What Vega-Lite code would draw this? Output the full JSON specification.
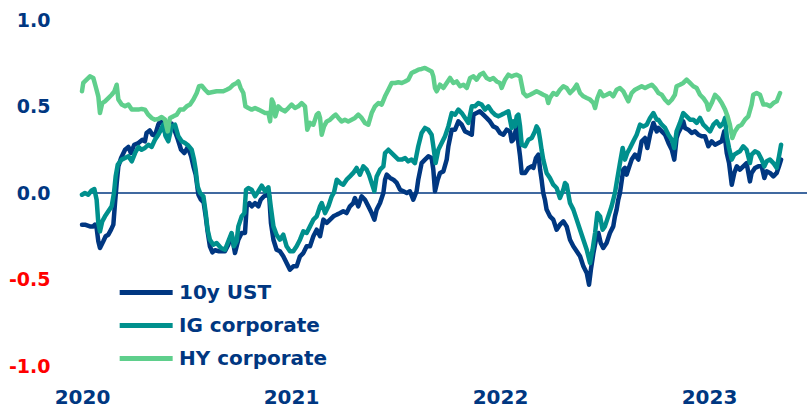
{
"$schema": "https://vega.github.io/schema/vega-lite/v6.json",
"width": 725, "height": 346,
"autosize": {"type": "none"},
"padding": {"left": 82, "top": 20, "right": 0, "bottom": 45},
"background": "white",
"config": {"view": {"stroke": null}, "font": "DejaVu Sans"},
"datasets": {
"series": [
{"s":"10y UST","t":2020.000,"v":-0.183},{"s":"10y UST","t":2020.014,"v":-0.183},{"s":"10y UST","t":2020.038,"v":-0.193},{"s":"10y UST","t":2020.054,"v":-0.193},{"s":"10y UST","t":2020.062,"v":-0.183},{"s":"10y UST","t":2020.070,"v":-0.202},{"s":"10y UST","t":2020.078,"v":-0.279},{"s":"10y UST","t":2020.086,"v":-0.318},{"s":"10y UST","t":2020.102,"v":-0.279},{"s":"10y UST","t":2020.113,"v":-0.250},{"s":"10y UST","t":2020.126,"v":-0.241},{"s":"10y UST","t":2020.139,"v":-0.212},{"s":"10y UST","t":2020.150,"v":-0.183},{"s":"10y UST","t":2020.158,"v":-0.058},{"s":"10y UST","t":2020.166,"v":0.058},{"s":"10y UST","t":2020.174,"v":0.154},{"s":"10y UST","t":2020.187,"v":0.202},{"s":"10y UST","t":2020.206,"v":0.250},{"s":"10y UST","t":2020.222,"v":0.266},{"s":"10y UST","t":2020.234,"v":0.231},{"s":"10y UST","t":2020.250,"v":0.279},{"s":"10y UST","t":2020.270,"v":0.289},{"s":"10y UST","t":2020.289,"v":0.308},{"s":"10y UST","t":2020.301,"v":0.299},{"s":"10y UST","t":2020.309,"v":0.347},{"s":"10y UST","t":2020.324,"v":0.362},{"s":"10y UST","t":2020.337,"v":0.337},{"s":"10y UST","t":2020.349,"v":0.331},{"s":"10y UST","t":2020.365,"v":0.395},{"s":"10y UST","t":2020.378,"v":0.424},{"s":"10y UST","t":2020.391,"v":0.385},{"s":"10y UST","t":2020.400,"v":0.337},{"s":"10y UST","t":2020.413,"v":0.376},{"s":"10y UST","t":2020.429,"v":0.401},{"s":"10y UST","t":2020.445,"v":0.356},{"s":"10y UST","t":2020.458,"v":0.312},{"s":"10y UST","t":2020.474,"v":0.250},{"s":"10y UST","t":2020.490,"v":0.231},{"s":"10y UST","t":2020.506,"v":0.266},{"s":"10y UST","t":2020.522,"v":0.212},{"s":"10y UST","t":2020.533,"v":0.154},{"s":"10y UST","t":2020.544,"v":0.106},{"s":"10y UST","t":2020.557,"v":-0.010},{"s":"10y UST","t":2020.569,"v":-0.039},{"s":"10y UST","t":2020.582,"v":-0.054},{"s":"10y UST","t":2020.592,"v":-0.135},{"s":"10y UST","t":2020.601,"v":-0.222},{"s":"10y UST","t":2020.612,"v":-0.308},{"s":"10y UST","t":2020.624,"v":-0.343},{"s":"10y UST","t":2020.636,"v":-0.331},{"s":"10y UST","t":2020.656,"v":-0.337},{"s":"10y UST","t":2020.684,"v":-0.337},{"s":"10y UST","t":2020.700,"v":-0.299},{"s":"10y UST","t":2020.716,"v":-0.241},{"s":"10y UST","t":2020.732,"v":-0.347},{"s":"10y UST","t":2020.748,"v":-0.270},{"s":"10y UST","t":2020.764,"v":-0.231},{"s":"10y UST","t":2020.780,"v":-0.231},{"s":"10y UST","t":2020.788,"v":-0.077},{"s":"10y UST","t":2020.801,"v":-0.058},{"s":"10y UST","t":2020.812,"v":-0.077},{"s":"10y UST","t":2020.828,"v":-0.058},{"s":"10y UST","t":2020.844,"v":-0.077},{"s":"10y UST","t":2020.855,"v":-0.039},{"s":"10y UST","t":2020.871,"v":-0.019},{"s":"10y UST","t":2020.887,"v":-0.010},{"s":"10y UST","t":2020.896,"v":-0.019},{"s":"10y UST","t":2020.904,"v":-0.173},{"s":"10y UST","t":2020.916,"v":-0.270},{"s":"10y UST","t":2020.931,"v":-0.328},{"s":"10y UST","t":2020.947,"v":-0.337},{"s":"10y UST","t":2020.963,"v":-0.366},{"s":"10y UST","t":2020.979,"v":-0.405},{"s":"10y UST","t":2020.995,"v":-0.443},{"s":"10y UST","t":2021.011,"v":-0.424},{"s":"10y UST","t":2021.027,"v":-0.424},{"s":"10y UST","t":2021.043,"v":-0.366},{"s":"10y UST","t":2021.059,"v":-0.347},{"s":"10y UST","t":2021.075,"v":-0.308},{"s":"10y UST","t":2021.091,"v":-0.308},{"s":"10y UST","t":2021.107,"v":-0.250},{"s":"10y UST","t":2021.123,"v":-0.212},{"s":"10y UST","t":2021.139,"v":-0.250},{"s":"10y UST","t":2021.155,"v":-0.154},{"s":"10y UST","t":2021.171,"v":-0.173},{"s":"10y UST","t":2021.187,"v":-0.154},{"s":"10y UST","t":2021.203,"v":-0.135},{"s":"10y UST","t":2021.219,"v":-0.125},{"s":"10y UST","t":2021.235,"v":-0.116},{"s":"10y UST","t":2021.250,"v":-0.106},{"s":"10y UST","t":2021.266,"v":-0.116},{"s":"10y UST","t":2021.282,"v":-0.077},{"s":"10y UST","t":2021.298,"v":-0.058},{"s":"10y UST","t":2021.306,"v":-0.029},{"s":"10y UST","t":2021.322,"v":-0.077},{"s":"10y UST","t":2021.338,"v":-0.019},{"s":"10y UST","t":2021.354,"v":-0.039},{"s":"10y UST","t":2021.370,"v":-0.077},{"s":"10y UST","t":2021.386,"v":-0.116},{"s":"10y UST","t":2021.399,"v":-0.154},{"s":"10y UST","t":2021.410,"v":-0.096},{"s":"10y UST","t":2021.426,"v":-0.058},{"s":"10y UST","t":2021.442,"v":0.000},{"s":"10y UST","t":2021.450,"v":0.077},{"s":"10y UST","t":2021.458,"v":0.106},{"s":"10y UST","t":2021.474,"v":0.087},{"s":"10y UST","t":2021.490,"v":0.077},{"s":"10y UST","t":2021.506,"v":0.058},{"s":"10y UST","t":2021.522,"v":0.019},{"s":"10y UST","t":2021.538,"v":0.010},{"s":"10y UST","t":2021.554,"v":0.000},{"s":"10y UST","t":2021.569,"v":0.010},{"s":"10y UST","t":2021.585,"v":-0.039},{"s":"10y UST","t":2021.601,"v":0.010},{"s":"10y UST","t":2021.609,"v":0.077},{"s":"10y UST","t":2021.625,"v":0.173},{"s":"10y UST","t":2021.641,"v":0.193},{"s":"10y UST","t":2021.657,"v":0.212},{"s":"10y UST","t":2021.673,"v":0.202},{"s":"10y UST","t":2021.681,"v":0.135},{"s":"10y UST","t":2021.689,"v":0.010},{"s":"10y UST","t":2021.702,"v":0.077},{"s":"10y UST","t":2021.713,"v":0.116},{"s":"10y UST","t":2021.729,"v":0.125},{"s":"10y UST","t":2021.745,"v":0.193},{"s":"10y UST","t":2021.753,"v":0.270},{"s":"10y UST","t":2021.769,"v":0.366},{"s":"10y UST","t":2021.785,"v":0.366},{"s":"10y UST","t":2021.801,"v":0.414},{"s":"10y UST","t":2021.817,"v":0.395},{"s":"10y UST","t":2021.833,"v":0.356},{"s":"10y UST","t":2021.849,"v":0.347},{"s":"10y UST","t":2021.865,"v":0.337},{"s":"10y UST","t":2021.873,"v":0.453},{"s":"10y UST","t":2021.888,"v":0.462},{"s":"10y UST","t":2021.904,"v":0.472},{"s":"10y UST","t":2021.920,"v":0.453},{"s":"10y UST","t":2021.936,"v":0.434},{"s":"10y UST","t":2021.952,"v":0.414},{"s":"10y UST","t":2021.968,"v":0.385},{"s":"10y UST","t":2021.984,"v":0.376},{"s":"10y UST","t":2022.000,"v":0.347},{"s":"10y UST","t":2022.016,"v":0.337},{"s":"10y UST","t":2022.032,"v":0.366},{"s":"10y UST","t":2022.048,"v":0.356},{"s":"10y UST","t":2022.056,"v":0.299},{"s":"10y UST","t":2022.064,"v":0.308},{"s":"10y UST","t":2022.080,"v":0.385},{"s":"10y UST","t":2022.088,"v":0.289},{"s":"10y UST","t":2022.096,"v":0.212},{"s":"10y UST","t":2022.104,"v":0.116},{"s":"10y UST","t":2022.120,"v":0.116},{"s":"10y UST","t":2022.136,"v":0.145},{"s":"10y UST","t":2022.152,"v":0.154},{"s":"10y UST","t":2022.160,"v":0.145},{"s":"10y UST","t":2022.172,"v":0.202},{"s":"10y UST","t":2022.184,"v":0.222},{"s":"10y UST","t":2022.192,"v":0.135},{"s":"10y UST","t":2022.199,"v":0.077},{"s":"10y UST","t":2022.207,"v":0.000},{"s":"10y UST","t":2022.215,"v":-0.039},{"s":"10y UST","t":2022.223,"v":-0.096},{"s":"10y UST","t":2022.239,"v":-0.135},{"s":"10y UST","t":2022.255,"v":-0.154},{"s":"10y UST","t":2022.271,"v":-0.212},{"s":"10y UST","t":2022.287,"v":-0.183},{"s":"10y UST","t":2022.303,"v":-0.164},{"s":"10y UST","t":2022.319,"v":-0.193},{"s":"10y UST","t":2022.335,"v":-0.270},{"s":"10y UST","t":2022.351,"v":-0.308},{"s":"10y UST","t":2022.367,"v":-0.337},{"s":"10y UST","t":2022.383,"v":-0.366},{"s":"10y UST","t":2022.391,"v":-0.395},{"s":"10y UST","t":2022.399,"v":-0.424},{"s":"10y UST","t":2022.415,"v":-0.462},{"s":"10y UST","t":2022.426,"v":-0.530},{"s":"10y UST","t":2022.436,"v":-0.434},{"s":"10y UST","t":2022.447,"v":-0.347},{"s":"10y UST","t":2022.459,"v":-0.270},{"s":"10y UST","t":2022.471,"v":-0.231},{"s":"10y UST","t":2022.482,"v":-0.289},{"s":"10y UST","t":2022.494,"v":-0.318},{"s":"10y UST","t":2022.510,"v":-0.289},{"s":"10y UST","t":2022.526,"v":-0.231},{"s":"10y UST","t":2022.542,"v":-0.193},{"s":"10y UST","t":2022.550,"v":-0.135},{"s":"10y UST","t":2022.558,"v":-0.096},{"s":"10y UST","t":2022.566,"v":-0.039},{"s":"10y UST","t":2022.574,"v":0.000},{"s":"10y UST","t":2022.590,"v":0.135},{"s":"10y UST","t":2022.598,"v":0.145},{"s":"10y UST","t":2022.606,"v":0.106},{"s":"10y UST","t":2022.619,"v":0.154},{"s":"10y UST","t":2022.630,"v":0.193},{"s":"10y UST","t":2022.646,"v":0.222},{"s":"10y UST","t":2022.662,"v":0.193},{"s":"10y UST","t":2022.678,"v":0.299},{"s":"10y UST","t":2022.694,"v":0.318},{"s":"10y UST","t":2022.705,"v":0.260},{"s":"10y UST","t":2022.718,"v":0.337},{"s":"10y UST","t":2022.734,"v":0.405},{"s":"10y UST","t":2022.750,"v":0.356},{"s":"10y UST","t":2022.758,"v":0.376},{"s":"10y UST","t":2022.774,"v":0.356},{"s":"10y UST","t":2022.790,"v":0.337},{"s":"10y UST","t":2022.806,"v":0.289},{"s":"10y UST","t":2022.822,"v":0.250},{"s":"10y UST","t":2022.834,"v":0.193},{"s":"10y UST","t":2022.845,"v":0.318},{"s":"10y UST","t":2022.853,"v":0.347},{"s":"10y UST","t":2022.869,"v":0.385},{"s":"10y UST","t":2022.877,"v":0.414},{"s":"10y UST","t":2022.885,"v":0.376},{"s":"10y UST","t":2022.901,"v":0.366},{"s":"10y UST","t":2022.917,"v":0.347},{"s":"10y UST","t":2022.933,"v":0.356},{"s":"10y UST","t":2022.949,"v":0.337},{"s":"10y UST","t":2022.965,"v":0.328},{"s":"10y UST","t":2022.981,"v":0.328},{"s":"10y UST","t":2022.997,"v":0.270},{"s":"10y UST","t":2023.013,"v":0.299},{"s":"10y UST","t":2023.029,"v":0.279},{"s":"10y UST","t":2023.045,"v":0.289},{"s":"10y UST","t":2023.061,"v":0.299},{"s":"10y UST","t":2023.073,"v":0.356},{"s":"10y UST","t":2023.085,"v":0.231},{"s":"10y UST","t":2023.096,"v":0.173},{"s":"10y UST","t":2023.109,"v":0.048},{"s":"10y UST","t":2023.121,"v":0.116},{"s":"10y UST","t":2023.133,"v":0.154},{"s":"10y UST","t":2023.148,"v":0.135},{"s":"10y UST","t":2023.164,"v":0.154},{"s":"10y UST","t":2023.180,"v":0.173},{"s":"10y UST","t":2023.196,"v":0.067},{"s":"10y UST","t":2023.204,"v":0.116},{"s":"10y UST","t":2023.220,"v":0.145},{"s":"10y UST","t":2023.236,"v":0.154},{"s":"10y UST","t":2023.252,"v":0.154},{"s":"10y UST","t":2023.265,"v":0.087},{"s":"10y UST","t":2023.276,"v":0.125},{"s":"10y UST","t":2023.292,"v":0.116},{"s":"10y UST","t":2023.308,"v":0.096},{"s":"10y UST","t":2023.324,"v":0.116},{"s":"10y UST","t":2023.335,"v":0.154},{"s":"10y UST","t":2023.345,"v":0.193},
{"s":"IG corporate","t":2020.000,"v":-0.010},{"s":"IG corporate","t":2020.014,"v":0.000},{"s":"IG corporate","t":2020.030,"v":-0.010},{"s":"IG corporate","t":2020.046,"v":0.015},{"s":"IG corporate","t":2020.059,"v":0.023},{"s":"IG corporate","t":2020.070,"v":-0.039},{"s":"IG corporate","t":2020.078,"v":-0.173},{"s":"IG corporate","t":2020.086,"v":-0.222},{"s":"IG corporate","t":2020.097,"v":-0.164},{"s":"IG corporate","t":2020.110,"v":-0.135},{"s":"IG corporate","t":2020.126,"v":-0.106},{"s":"IG corporate","t":2020.142,"v":-0.077},{"s":"IG corporate","t":2020.153,"v":0.000},{"s":"IG corporate","t":2020.161,"v":0.096},{"s":"IG corporate","t":2020.171,"v":0.164},{"s":"IG corporate","t":2020.190,"v":0.193},{"s":"IG corporate","t":2020.206,"v":0.202},{"s":"IG corporate","t":2020.222,"v":0.212},{"s":"IG corporate","t":2020.238,"v":0.183},{"s":"IG corporate","t":2020.254,"v":0.231},{"s":"IG corporate","t":2020.270,"v":0.266},{"s":"IG corporate","t":2020.285,"v":0.250},{"s":"IG corporate","t":2020.301,"v":0.260},{"s":"IG corporate","t":2020.317,"v":0.279},{"s":"IG corporate","t":2020.333,"v":0.266},{"s":"IG corporate","t":2020.349,"v":0.308},{"s":"IG corporate","t":2020.365,"v":0.337},{"s":"IG corporate","t":2020.376,"v":0.362},{"s":"IG corporate","t":2020.389,"v":0.395},{"s":"IG corporate","t":2020.400,"v":0.328},{"s":"IG corporate","t":2020.413,"v":0.299},{"s":"IG corporate","t":2020.429,"v":0.385},{"s":"IG corporate","t":2020.445,"v":0.395},{"s":"IG corporate","t":2020.461,"v":0.328},{"s":"IG corporate","t":2020.477,"v":0.299},{"s":"IG corporate","t":2020.493,"v":0.289},{"s":"IG corporate","t":2020.509,"v":0.274},{"s":"IG corporate","t":2020.525,"v":0.250},{"s":"IG corporate","t":2020.536,"v":0.193},{"s":"IG corporate","t":2020.544,"v":0.135},{"s":"IG corporate","t":2020.553,"v":0.039},{"s":"IG corporate","t":2020.565,"v":0.000},{"s":"IG corporate","t":2020.581,"v":-0.019},{"s":"IG corporate","t":2020.592,"v":-0.116},{"s":"IG corporate","t":2020.601,"v":-0.212},{"s":"IG corporate","t":2020.612,"v":-0.270},{"s":"IG corporate","t":2020.628,"v":-0.299},{"s":"IG corporate","t":2020.644,"v":-0.289},{"s":"IG corporate","t":2020.665,"v":-0.318},{"s":"IG corporate","t":2020.684,"v":-0.328},{"s":"IG corporate","t":2020.700,"v":-0.279},{"s":"IG corporate","t":2020.716,"v":-0.231},{"s":"IG corporate","t":2020.727,"v":-0.308},{"s":"IG corporate","t":2020.740,"v":-0.279},{"s":"IG corporate","t":2020.748,"v":-0.193},{"s":"IG corporate","t":2020.764,"v":-0.135},{"s":"IG corporate","t":2020.777,"v":-0.116},{"s":"IG corporate","t":2020.785,"v":0.019},{"s":"IG corporate","t":2020.796,"v":0.029},{"s":"IG corporate","t":2020.812,"v":0.019},{"s":"IG corporate","t":2020.828,"v":-0.019},{"s":"IG corporate","t":2020.844,"v":0.010},{"s":"IG corporate","t":2020.860,"v":0.042},{"s":"IG corporate","t":2020.876,"v":0.010},{"s":"IG corporate","t":2020.892,"v":0.033},{"s":"IG corporate","t":2020.903,"v":-0.077},{"s":"IG corporate","t":2020.916,"v":-0.193},{"s":"IG corporate","t":2020.931,"v":-0.241},{"s":"IG corporate","t":2020.947,"v":-0.270},{"s":"IG corporate","t":2020.963,"v":-0.241},{"s":"IG corporate","t":2020.979,"v":-0.308},{"s":"IG corporate","t":2020.995,"v":-0.337},{"s":"IG corporate","t":2021.011,"v":-0.337},{"s":"IG corporate","t":2021.027,"v":-0.308},{"s":"IG corporate","t":2021.043,"v":-0.270},{"s":"IG corporate","t":2021.059,"v":-0.222},{"s":"IG corporate","t":2021.075,"v":-0.231},{"s":"IG corporate","t":2021.091,"v":-0.193},{"s":"IG corporate","t":2021.107,"v":-0.154},{"s":"IG corporate","t":2021.123,"v":-0.135},{"s":"IG corporate","t":2021.139,"v":-0.077},{"s":"IG corporate","t":2021.147,"v":-0.058},{"s":"IG corporate","t":2021.163,"v":-0.116},{"s":"IG corporate","t":2021.179,"v":-0.077},{"s":"IG corporate","t":2021.195,"v":-0.019},{"s":"IG corporate","t":2021.206,"v":0.004},{"s":"IG corporate","t":2021.219,"v":0.077},{"s":"IG corporate","t":2021.235,"v":0.058},{"s":"IG corporate","t":2021.250,"v":0.048},{"s":"IG corporate","t":2021.266,"v":0.077},{"s":"IG corporate","t":2021.282,"v":0.096},{"s":"IG corporate","t":2021.298,"v":0.116},{"s":"IG corporate","t":2021.314,"v":0.145},{"s":"IG corporate","t":2021.330,"v":0.106},{"s":"IG corporate","t":2021.346,"v":0.154},{"s":"IG corporate","t":2021.362,"v":0.135},{"s":"IG corporate","t":2021.373,"v":0.106},{"s":"IG corporate","t":2021.386,"v":0.058},{"s":"IG corporate","t":2021.399,"v":0.010},{"s":"IG corporate","t":2021.410,"v":0.096},{"s":"IG corporate","t":2021.426,"v":0.135},{"s":"IG corporate","t":2021.442,"v":0.154},{"s":"IG corporate","t":2021.450,"v":0.231},{"s":"IG corporate","t":2021.466,"v":0.250},{"s":"IG corporate","t":2021.482,"v":0.231},{"s":"IG corporate","t":2021.498,"v":0.212},{"s":"IG corporate","t":2021.514,"v":0.193},{"s":"IG corporate","t":2021.530,"v":0.193},{"s":"IG corporate","t":2021.546,"v":0.202},{"s":"IG corporate","t":2021.561,"v":0.183},{"s":"IG corporate","t":2021.577,"v":0.193},{"s":"IG corporate","t":2021.593,"v":0.173},{"s":"IG corporate","t":2021.609,"v":0.270},{"s":"IG corporate","t":2021.625,"v":0.347},{"s":"IG corporate","t":2021.641,"v":0.376},{"s":"IG corporate","t":2021.657,"v":0.366},{"s":"IG corporate","t":2021.673,"v":0.337},{"s":"IG corporate","t":2021.681,"v":0.270},{"s":"IG corporate","t":2021.692,"v":0.173},{"s":"IG corporate","t":2021.705,"v":0.250},{"s":"IG corporate","t":2021.721,"v":0.289},{"s":"IG corporate","t":2021.737,"v":0.328},{"s":"IG corporate","t":2021.753,"v":0.385},{"s":"IG corporate","t":2021.769,"v":0.462},{"s":"IG corporate","t":2021.785,"v":0.453},{"s":"IG corporate","t":2021.801,"v":0.482},{"s":"IG corporate","t":2021.817,"v":0.462},{"s":"IG corporate","t":2021.833,"v":0.434},{"s":"IG corporate","t":2021.849,"v":0.405},{"s":"IG corporate","t":2021.865,"v":0.501},{"s":"IG corporate","t":2021.880,"v":0.501},{"s":"IG corporate","t":2021.896,"v":0.520},{"s":"IG corporate","t":2021.912,"v":0.511},{"s":"IG corporate","t":2021.928,"v":0.482},{"s":"IG corporate","t":2021.944,"v":0.501},{"s":"IG corporate","t":2021.960,"v":0.472},{"s":"IG corporate","t":2021.976,"v":0.453},{"s":"IG corporate","t":2021.992,"v":0.443},{"s":"IG corporate","t":2022.008,"v":0.453},{"s":"IG corporate","t":2022.024,"v":0.462},{"s":"IG corporate","t":2022.040,"v":0.472},{"s":"IG corporate","t":2022.056,"v":0.376},{"s":"IG corporate","t":2022.064,"v":0.414},{"s":"IG corporate","t":2022.072,"v":0.385},{"s":"IG corporate","t":2022.080,"v":0.443},{"s":"IG corporate","t":2022.088,"v":0.453},{"s":"IG corporate","t":2022.096,"v":0.385},{"s":"IG corporate","t":2022.104,"v":0.279},{"s":"IG corporate","t":2022.120,"v":0.270},{"s":"IG corporate","t":2022.136,"v":0.308},{"s":"IG corporate","t":2022.152,"v":0.318},{"s":"IG corporate","t":2022.167,"v":0.356},{"s":"IG corporate","t":2022.175,"v":0.385},{"s":"IG corporate","t":2022.184,"v":0.366},{"s":"IG corporate","t":2022.192,"v":0.308},{"s":"IG corporate","t":2022.199,"v":0.250},{"s":"IG corporate","t":2022.207,"v":0.193},{"s":"IG corporate","t":2022.223,"v":0.116},{"s":"IG corporate","t":2022.239,"v":0.087},{"s":"IG corporate","t":2022.255,"v":0.048},{"s":"IG corporate","t":2022.271,"v":0.029},{"s":"IG corporate","t":2022.287,"v":-0.029},{"s":"IG corporate","t":2022.303,"v":0.019},{"s":"IG corporate","t":2022.311,"v":0.058},{"s":"IG corporate","t":2022.319,"v":0.048},{"s":"IG corporate","t":2022.335,"v":-0.058},{"s":"IG corporate","t":2022.351,"v":-0.096},{"s":"IG corporate","t":2022.367,"v":-0.154},{"s":"IG corporate","t":2022.383,"v":-0.212},{"s":"IG corporate","t":2022.399,"v":-0.270},{"s":"IG corporate","t":2022.415,"v":-0.328},{"s":"IG corporate","t":2022.431,"v":-0.405},{"s":"IG corporate","t":2022.443,"v":-0.328},{"s":"IG corporate","t":2022.455,"v":-0.231},{"s":"IG corporate","t":2022.466,"v":-0.116},{"s":"IG corporate","t":2022.479,"v":-0.135},{"s":"IG corporate","t":2022.491,"v":-0.212},{"s":"IG corporate","t":2022.502,"v":-0.193},{"s":"IG corporate","t":2022.518,"v":-0.135},{"s":"IG corporate","t":2022.534,"v":-0.077},{"s":"IG corporate","t":2022.550,"v":0.000},{"s":"IG corporate","t":2022.558,"v":0.058},{"s":"IG corporate","t":2022.574,"v":0.173},{"s":"IG corporate","t":2022.587,"v":0.260},{"s":"IG corporate","t":2022.598,"v":0.193},{"s":"IG corporate","t":2022.609,"v":0.231},{"s":"IG corporate","t":2022.622,"v":0.260},{"s":"IG corporate","t":2022.638,"v":0.299},{"s":"IG corporate","t":2022.654,"v":0.337},{"s":"IG corporate","t":2022.670,"v":0.395},{"s":"IG corporate","t":2022.686,"v":0.385},{"s":"IG corporate","t":2022.702,"v":0.395},{"s":"IG corporate","t":2022.718,"v":0.434},{"s":"IG corporate","t":2022.734,"v":0.462},{"s":"IG corporate","t":2022.750,"v":0.424},{"s":"IG corporate","t":2022.758,"v":0.424},{"s":"IG corporate","t":2022.774,"v":0.395},{"s":"IG corporate","t":2022.790,"v":0.376},{"s":"IG corporate","t":2022.806,"v":0.337},{"s":"IG corporate","t":2022.822,"v":0.308},{"s":"IG corporate","t":2022.834,"v":0.260},{"s":"IG corporate","t":2022.845,"v":0.356},{"s":"IG corporate","t":2022.861,"v":0.405},{"s":"IG corporate","t":2022.877,"v":0.462},{"s":"IG corporate","t":2022.893,"v":0.443},{"s":"IG corporate","t":2022.909,"v":0.424},{"s":"IG corporate","t":2022.925,"v":0.424},{"s":"IG corporate","t":2022.941,"v":0.405},{"s":"IG corporate","t":2022.957,"v":0.434},{"s":"IG corporate","t":2022.973,"v":0.395},{"s":"IG corporate","t":2022.989,"v":0.376},{"s":"IG corporate","t":2023.005,"v":0.356},{"s":"IG corporate","t":2023.021,"v":0.395},{"s":"IG corporate","t":2023.037,"v":0.414},{"s":"IG corporate","t":2023.053,"v":0.385},{"s":"IG corporate","t":2023.069,"v":0.405},{"s":"IG corporate","t":2023.077,"v":0.434},{"s":"IG corporate","t":2023.085,"v":0.328},{"s":"IG corporate","t":2023.096,"v":0.260},{"s":"IG corporate","t":2023.109,"v":0.193},{"s":"IG corporate","t":2023.121,"v":0.222},{"s":"IG corporate","t":2023.133,"v":0.231},{"s":"IG corporate","t":2023.148,"v":0.241},{"s":"IG corporate","t":2023.164,"v":0.270},{"s":"IG corporate","t":2023.180,"v":0.250},{"s":"IG corporate","t":2023.196,"v":0.173},{"s":"IG corporate","t":2023.204,"v":0.222},{"s":"IG corporate","t":2023.220,"v":0.241},{"s":"IG corporate","t":2023.236,"v":0.231},{"s":"IG corporate","t":2023.252,"v":0.193},{"s":"IG corporate","t":2023.265,"v":0.154},{"s":"IG corporate","t":2023.276,"v":0.183},{"s":"IG corporate","t":2023.292,"v":0.193},{"s":"IG corporate","t":2023.308,"v":0.173},{"s":"IG corporate","t":2023.324,"v":0.145},{"s":"IG corporate","t":2023.335,"v":0.212},{"s":"IG corporate","t":2023.345,"v":0.279},
{"s":"HY corporate","t":2020.000,"v":0.588},{"s":"HY corporate","t":2020.006,"v":0.636},{"s":"HY corporate","t":2020.022,"v":0.655},{"s":"HY corporate","t":2020.038,"v":0.674},{"s":"HY corporate","t":2020.054,"v":0.665},{"s":"HY corporate","t":2020.065,"v":0.617},{"s":"HY corporate","t":2020.078,"v":0.559},{"s":"HY corporate","t":2020.086,"v":0.462},{"s":"HY corporate","t":2020.097,"v":0.520},{"s":"HY corporate","t":2020.110,"v":0.530},{"s":"HY corporate","t":2020.126,"v":0.549},{"s":"HY corporate","t":2020.142,"v":0.568},{"s":"HY corporate","t":2020.155,"v":0.588},{"s":"HY corporate","t":2020.166,"v":0.626},{"s":"HY corporate","t":2020.174,"v":0.540},{"s":"HY corporate","t":2020.190,"v":0.511},{"s":"HY corporate","t":2020.206,"v":0.501},{"s":"HY corporate","t":2020.222,"v":0.511},{"s":"HY corporate","t":2020.238,"v":0.482},{"s":"HY corporate","t":2020.254,"v":0.482},{"s":"HY corporate","t":2020.270,"v":0.482},{"s":"HY corporate","t":2020.285,"v":0.486},{"s":"HY corporate","t":2020.301,"v":0.482},{"s":"HY corporate","t":2020.317,"v":0.453},{"s":"HY corporate","t":2020.333,"v":0.434},{"s":"HY corporate","t":2020.349,"v":0.424},{"s":"HY corporate","t":2020.365,"v":0.428},{"s":"HY corporate","t":2020.381,"v":0.439},{"s":"HY corporate","t":2020.397,"v":0.424},{"s":"HY corporate","t":2020.410,"v":0.356},{"s":"HY corporate","t":2020.421,"v":0.434},{"s":"HY corporate","t":2020.437,"v":0.443},{"s":"HY corporate","t":2020.453,"v":0.453},{"s":"HY corporate","t":2020.469,"v":0.482},{"s":"HY corporate","t":2020.485,"v":0.482},{"s":"HY corporate","t":2020.501,"v":0.501},{"s":"HY corporate","t":2020.517,"v":0.511},{"s":"HY corporate","t":2020.533,"v":0.540},{"s":"HY corporate","t":2020.549,"v":0.578},{"s":"HY corporate","t":2020.560,"v":0.617},{"s":"HY corporate","t":2020.573,"v":0.620},{"s":"HY corporate","t":2020.589,"v":0.597},{"s":"HY corporate","t":2020.604,"v":0.578},{"s":"HY corporate","t":2020.620,"v":0.582},{"s":"HY corporate","t":2020.644,"v":0.588},{"s":"HY corporate","t":2020.676,"v":0.588},{"s":"HY corporate","t":2020.692,"v":0.597},{"s":"HY corporate","t":2020.708,"v":0.607},{"s":"HY corporate","t":2020.724,"v":0.626},{"s":"HY corporate","t":2020.740,"v":0.636},{"s":"HY corporate","t":2020.748,"v":0.645},{"s":"HY corporate","t":2020.759,"v":0.607},{"s":"HY corporate","t":2020.772,"v":0.578},{"s":"HY corporate","t":2020.782,"v":0.501},{"s":"HY corporate","t":2020.796,"v":0.491},{"s":"HY corporate","t":2020.812,"v":0.482},{"s":"HY corporate","t":2020.828,"v":0.491},{"s":"HY corporate","t":2020.844,"v":0.482},{"s":"HY corporate","t":2020.860,"v":0.472},{"s":"HY corporate","t":2020.876,"v":0.462},{"s":"HY corporate","t":2020.892,"v":0.462},{"s":"HY corporate","t":2020.900,"v":0.414},{"s":"HY corporate","t":2020.908,"v":0.540},{"s":"HY corporate","t":2020.916,"v":0.520},{"s":"HY corporate","t":2020.925,"v":0.443},{"s":"HY corporate","t":2020.939,"v":0.501},{"s":"HY corporate","t":2020.955,"v":0.482},{"s":"HY corporate","t":2020.971,"v":0.472},{"s":"HY corporate","t":2020.987,"v":0.491},{"s":"HY corporate","t":2021.003,"v":0.511},{"s":"HY corporate","t":2021.019,"v":0.491},{"s":"HY corporate","t":2021.035,"v":0.501},{"s":"HY corporate","t":2021.051,"v":0.520},{"s":"HY corporate","t":2021.067,"v":0.501},{"s":"HY corporate","t":2021.078,"v":0.366},{"s":"HY corporate","t":2021.091,"v":0.405},{"s":"HY corporate","t":2021.107,"v":0.395},{"s":"HY corporate","t":2021.123,"v":0.453},{"s":"HY corporate","t":2021.132,"v":0.462},{"s":"HY corporate","t":2021.139,"v":0.434},{"s":"HY corporate","t":2021.147,"v":0.337},{"s":"HY corporate","t":2021.158,"v":0.385},{"s":"HY corporate","t":2021.171,"v":0.414},{"s":"HY corporate","t":2021.187,"v":0.424},{"s":"HY corporate","t":2021.203,"v":0.443},{"s":"HY corporate","t":2021.214,"v":0.453},{"s":"HY corporate","t":2021.227,"v":0.434},{"s":"HY corporate","t":2021.242,"v":0.414},{"s":"HY corporate","t":2021.258,"v":0.424},{"s":"HY corporate","t":2021.274,"v":0.414},{"s":"HY corporate","t":2021.290,"v":0.424},{"s":"HY corporate","t":2021.306,"v":0.434},{"s":"HY corporate","t":2021.322,"v":0.453},{"s":"HY corporate","t":2021.338,"v":0.434},{"s":"HY corporate","t":2021.354,"v":0.405},{"s":"HY corporate","t":2021.370,"v":0.395},{"s":"HY corporate","t":2021.386,"v":0.462},{"s":"HY corporate","t":2021.402,"v":0.501},{"s":"HY corporate","t":2021.418,"v":0.520},{"s":"HY corporate","t":2021.434,"v":0.511},{"s":"HY corporate","t":2021.450,"v":0.559},{"s":"HY corporate","t":2021.466,"v":0.597},{"s":"HY corporate","t":2021.482,"v":0.636},{"s":"HY corporate","t":2021.498,"v":0.636},{"s":"HY corporate","t":2021.514,"v":0.640},{"s":"HY corporate","t":2021.530,"v":0.636},{"s":"HY corporate","t":2021.546,"v":0.645},{"s":"HY corporate","t":2021.561,"v":0.655},{"s":"HY corporate","t":2021.577,"v":0.694},{"s":"HY corporate","t":2021.593,"v":0.703},{"s":"HY corporate","t":2021.609,"v":0.713},{"s":"HY corporate","t":2021.625,"v":0.717},{"s":"HY corporate","t":2021.641,"v":0.723},{"s":"HY corporate","t":2021.657,"v":0.713},{"s":"HY corporate","t":2021.673,"v":0.703},{"s":"HY corporate","t":2021.681,"v":0.674},{"s":"HY corporate","t":2021.689,"v":0.607},{"s":"HY corporate","t":2021.697,"v":0.588},{"s":"HY corporate","t":2021.713,"v":0.626},{"s":"HY corporate","t":2021.729,"v":0.607},{"s":"HY corporate","t":2021.745,"v":0.636},{"s":"HY corporate","t":2021.761,"v":0.665},{"s":"HY corporate","t":2021.777,"v":0.636},{"s":"HY corporate","t":2021.793,"v":0.645},{"s":"HY corporate","t":2021.809,"v":0.617},{"s":"HY corporate","t":2021.825,"v":0.626},{"s":"HY corporate","t":2021.841,"v":0.607},{"s":"HY corporate","t":2021.857,"v":0.665},{"s":"HY corporate","t":2021.873,"v":0.674},{"s":"HY corporate","t":2021.888,"v":0.655},{"s":"HY corporate","t":2021.904,"v":0.684},{"s":"HY corporate","t":2021.920,"v":0.694},{"s":"HY corporate","t":2021.936,"v":0.665},{"s":"HY corporate","t":2021.952,"v":0.655},{"s":"HY corporate","t":2021.968,"v":0.665},{"s":"HY corporate","t":2021.984,"v":0.645},{"s":"HY corporate","t":2022.000,"v":0.636},{"s":"HY corporate","t":2022.008,"v":0.607},{"s":"HY corporate","t":2022.024,"v":0.655},{"s":"HY corporate","t":2022.040,"v":0.684},{"s":"HY corporate","t":2022.056,"v":0.674},{"s":"HY corporate","t":2022.064,"v":0.678},{"s":"HY corporate","t":2022.080,"v":0.684},{"s":"HY corporate","t":2022.096,"v":0.674},{"s":"HY corporate","t":2022.104,"v":0.626},{"s":"HY corporate","t":2022.112,"v":0.578},{"s":"HY corporate","t":2022.128,"v":0.559},{"s":"HY corporate","t":2022.144,"v":0.568},{"s":"HY corporate","t":2022.160,"v":0.578},{"s":"HY corporate","t":2022.175,"v":0.588},{"s":"HY corporate","t":2022.192,"v":0.578},{"s":"HY corporate","t":2022.207,"v":0.568},{"s":"HY corporate","t":2022.223,"v":0.559},{"s":"HY corporate","t":2022.231,"v":0.520},{"s":"HY corporate","t":2022.239,"v":0.549},{"s":"HY corporate","t":2022.255,"v":0.578},{"s":"HY corporate","t":2022.271,"v":0.568},{"s":"HY corporate","t":2022.287,"v":0.597},{"s":"HY corporate","t":2022.303,"v":0.617},{"s":"HY corporate","t":2022.319,"v":0.607},{"s":"HY corporate","t":2022.335,"v":0.578},{"s":"HY corporate","t":2022.351,"v":0.597},{"s":"HY corporate","t":2022.367,"v":0.626},{"s":"HY corporate","t":2022.383,"v":0.578},{"s":"HY corporate","t":2022.399,"v":0.559},{"s":"HY corporate","t":2022.415,"v":0.549},{"s":"HY corporate","t":2022.431,"v":0.540},{"s":"HY corporate","t":2022.447,"v":0.520},{"s":"HY corporate","t":2022.455,"v":0.491},{"s":"HY corporate","t":2022.466,"v":0.549},{"s":"HY corporate","t":2022.479,"v":0.588},{"s":"HY corporate","t":2022.494,"v":0.559},{"s":"HY corporate","t":2022.510,"v":0.568},{"s":"HY corporate","t":2022.526,"v":0.578},{"s":"HY corporate","t":2022.542,"v":0.559},{"s":"HY corporate","t":2022.558,"v":0.597},{"s":"HY corporate","t":2022.574,"v":0.607},{"s":"HY corporate","t":2022.590,"v":0.588},{"s":"HY corporate","t":2022.606,"v":0.549},{"s":"HY corporate","t":2022.614,"v":0.530},{"s":"HY corporate","t":2022.630,"v":0.578},{"s":"HY corporate","t":2022.646,"v":0.597},{"s":"HY corporate","t":2022.662,"v":0.607},{"s":"HY corporate","t":2022.678,"v":0.617},{"s":"HY corporate","t":2022.694,"v":0.607},{"s":"HY corporate","t":2022.710,"v":0.617},{"s":"HY corporate","t":2022.726,"v":0.626},{"s":"HY corporate","t":2022.742,"v":0.607},{"s":"HY corporate","t":2022.758,"v":0.578},{"s":"HY corporate","t":2022.774,"v":0.568},{"s":"HY corporate","t":2022.790,"v":0.539},{"s":"HY corporate","t":2022.806,"v":0.520},{"s":"HY corporate","t":2022.822,"v":0.539},{"s":"HY corporate","t":2022.837,"v":0.568},{"s":"HY corporate","t":2022.845,"v":0.617},{"s":"HY corporate","t":2022.861,"v":0.626},{"s":"HY corporate","t":2022.877,"v":0.636},{"s":"HY corporate","t":2022.893,"v":0.655},{"s":"HY corporate","t":2022.909,"v":0.636},{"s":"HY corporate","t":2022.925,"v":0.617},{"s":"HY corporate","t":2022.941,"v":0.607},{"s":"HY corporate","t":2022.957,"v":0.568},{"s":"HY corporate","t":2022.973,"v":0.549},{"s":"HY corporate","t":2022.989,"v":0.520},{"s":"HY corporate","t":2022.997,"v":0.482},{"s":"HY corporate","t":2023.013,"v":0.520},{"s":"HY corporate","t":2023.029,"v":0.568},{"s":"HY corporate","t":2023.045,"v":0.549},{"s":"HY corporate","t":2023.061,"v":0.520},{"s":"HY corporate","t":2023.077,"v":0.482},{"s":"HY corporate","t":2023.089,"v":0.443},{"s":"HY corporate","t":2023.100,"v":0.395},{"s":"HY corporate","t":2023.112,"v":0.318},{"s":"HY corporate","t":2023.124,"v":0.356},{"s":"HY corporate","t":2023.140,"v":0.385},{"s":"HY corporate","t":2023.156,"v":0.395},{"s":"HY corporate","t":2023.172,"v":0.424},{"s":"HY corporate","t":2023.188,"v":0.443},{"s":"HY corporate","t":2023.204,"v":0.511},{"s":"HY corporate","t":2023.212,"v":0.568},{"s":"HY corporate","t":2023.228,"v":0.578},{"s":"HY corporate","t":2023.244,"v":0.568},{"s":"HY corporate","t":2023.260,"v":0.511},{"s":"HY corporate","t":2023.276,"v":0.511},{"s":"HY corporate","t":2023.292,"v":0.501},{"s":"HY corporate","t":2023.308,"v":0.520},{"s":"HY corporate","t":2023.324,"v":0.530},{"s":"HY corporate","t":2023.340,"v":0.578}
]
},
"layer": [
{
"data": {"values": [{"v": 0}]},
"mark": {"type": "rule", "color": "#003781", "strokeWidth": 1.5},
"encoding": {"y": {"field": "v", "type": "quantitative"}}
},
{
"data": {"name": "series"},
"mark": {"type": "line", "strokeWidth": 4.5, "strokeJoin": "round", "strokeCap": "round"},
"encoding": {
"x": {"field": "t", "type": "quantitative",
"scale": {"domain": [2020, 2023.469], "nice": false, "zero": false},
"axis": {"values": [2020, 2021, 2022, 2023], "format": "d", "title": null, "domain": false, "ticks": false, "tickSize": 0, "grid": false, "labelFont": "DejaVu Sans", "labelFontWeight": "bold", "labelFontSize": 20, "labelColor": "#003781", "labelPadding": 21, "labelFlush": false}},
"y": {"field": "v", "type": "quantitative",
"scale": {"domain": [-1, 1], "nice": false},
"axis": {"values": [-1, -0.5, 0, 0.5, 1], "title": null, "domain": false, "ticks": false, "tickSize": 0, "grid": false, "labelFont": "DejaVu Sans", "labelFontWeight": "bold", "labelFontSize": 19, "labelPadding": 32, "labelColor": {"condition": {"test": "datum.value < 0", "value": "#FF0000"}, "value": "#003781"}, "labelExpr": "datum.value < 0 ? '-' + format(-datum.value, '.1f') : format(datum.value, '.1f')"}},
"color": {"field": "s", "type": "nominal",
"scale": {"domain": ["10y UST", "IG corporate", "HY corporate"], "range": ["#003781", "#00908D", "#5FCF8C"]},
"legend": {"title": null, "orient": "none", "legendX": 35, "legendY": 261, "symbolType": "M-1,0H5", "symbolSize": 312, "symbolStrokeWidth": 5, "labelOffset": 39, "labelFont": "DejaVu Sans", "labelFontSize": 20, "labelFontWeight": "bold", "labelColor": "#003781", "rowPadding": 11, "padding": 0}}
}
}
]
}
